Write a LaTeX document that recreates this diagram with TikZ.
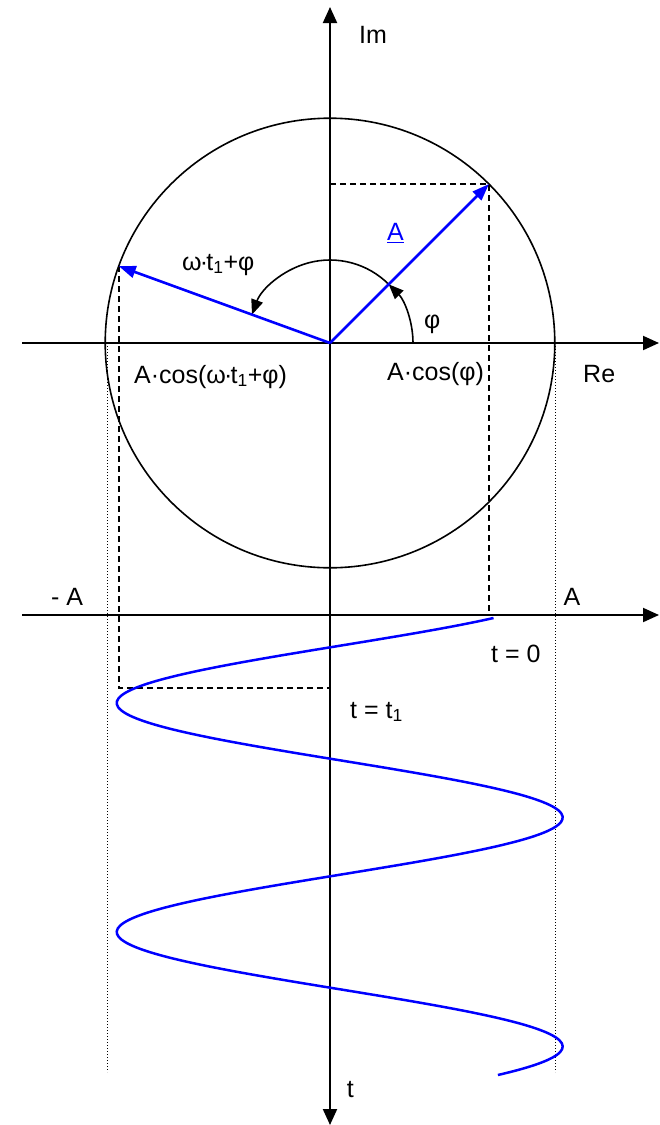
\documentclass[tikz,border=0pt]{standalone}
\usepackage{fontspec}
\setmainfont{Liberation Sans}
\usetikzlibrary{arrows.meta}
\newcommand{\mdt}{\kern-1.8pt·\kern-1.8pt}
\begin{document}
\begin{tikzpicture}[x=1pt,y=1pt,
  lbl/.style={font=\fontsize{25}{30}\selectfont, inner sep=0pt, anchor=base west},
  axis/.style={line width=2pt, -{Triangle[length=16pt,width=14pt]}},
  axisboth/.style={line width=2pt, {Triangle[length=16pt,width=14pt]}-{Triangle[length=16pt,width=14pt]}},
  phasor/.style={blue, line width=2.6pt, -{Triangle[length=17pt,width=12pt]}},
  anglearc/.style={line width=1.6pt, -{Triangle[length=15pt,width=12pt]}},
  proj/.style={line width=1.5pt, dash pattern=on 6pt off 4pt},
  bound/.style={line width=0.9pt, dash pattern=on 1pt off 2pt},
  wave/.style={blue, line width=2.5pt},
]
\useasboundingbox (0,0) rectangle (659,-1125);
% key points
\coordinate (O) at (330,-343);
\coordinate (Itop) at (330,-7);
\coordinate (Ibot) at (330,-1125);
\coordinate (ReL) at (22,-343);
\coordinate (ReR) at (659,-343);
\coordinate (TL) at (22,-615);
\coordinate (TR) at (659,-615);
\coordinate (T1) at (330,-688);
\coordinate (P) at ([shift={(45:224.8)}]O);
\coordinate (Q) at ([shift={(160:224.8)}]O);
\coordinate (DL1) at (107,-343);
\coordinate (DL2) at (107,-1072);
\coordinate (DR1) at (555.7,-343);
\coordinate (DR2) at (555.7,-1072);
% bounds
\draw[bound] (DL1) -- (DL2);
\draw[bound] (DR1) -- (DR2);
% circle
\draw[line width=1.6pt] (O) circle[radius=224.8];
% projections
\draw[proj] (O |- P) -- (P) -- (P |- TL);
\draw[proj] (Q) -- (Q |- T1) -- (T1);
% axes
\draw[axisboth] (Ibot) -- (Itop);
\draw[axis] (ReL) -- (ReR);
\draw[axis] (TL) -- (TR);
% angle arcs
\draw[anglearc] ([shift={(0:83)}]O) arc[start angle=0,end angle=45,radius=83];
\draw[anglearc] ([shift={(45:83)}]O) arc[start angle=45,end angle=160,radius=83];
% phasors
\draw[phasor] (O) -- (P);
\draw[phasor] (O) -- (Q);
% wave
\draw[wave] plot[domain=618:1075, samples=160, smooth] ({339.7-223*cos(1.5720524*(\x-703))}, {-\x});
% labels
\node[lbl] (im) at (359,-43) {Im};
\node[lbl] (re) at (583,-382) {Re};
\node[lbl] (mA) at (51,-605) {- A};
\node[lbl] (pA) at (563.5,-605) {A};
\node[lbl] (t0) at (491,-662) {t = 0};
\node[lbl] (tt1) at (350,-718) {t = t\textsubscript{1}};
\node[lbl] (t) at (346.7,-1097) {t};
\node[lbl, text=blue] (Alab) at (387,-240.7) {\underline{A}};
\node[lbl] (phi) at (424,-328) {φ};
\node[lbl] (cphi) at (387,-380.7) {A·cos(φ)};
\node[lbl] (cwt) at (134,-383) {A·cos(ω\mdt t\textsubscript{1}+φ)};
\node[lbl] (wt) at (182,-270) {ω\mdt t\textsubscript{1}+φ};
\end{tikzpicture}
\end{document}
